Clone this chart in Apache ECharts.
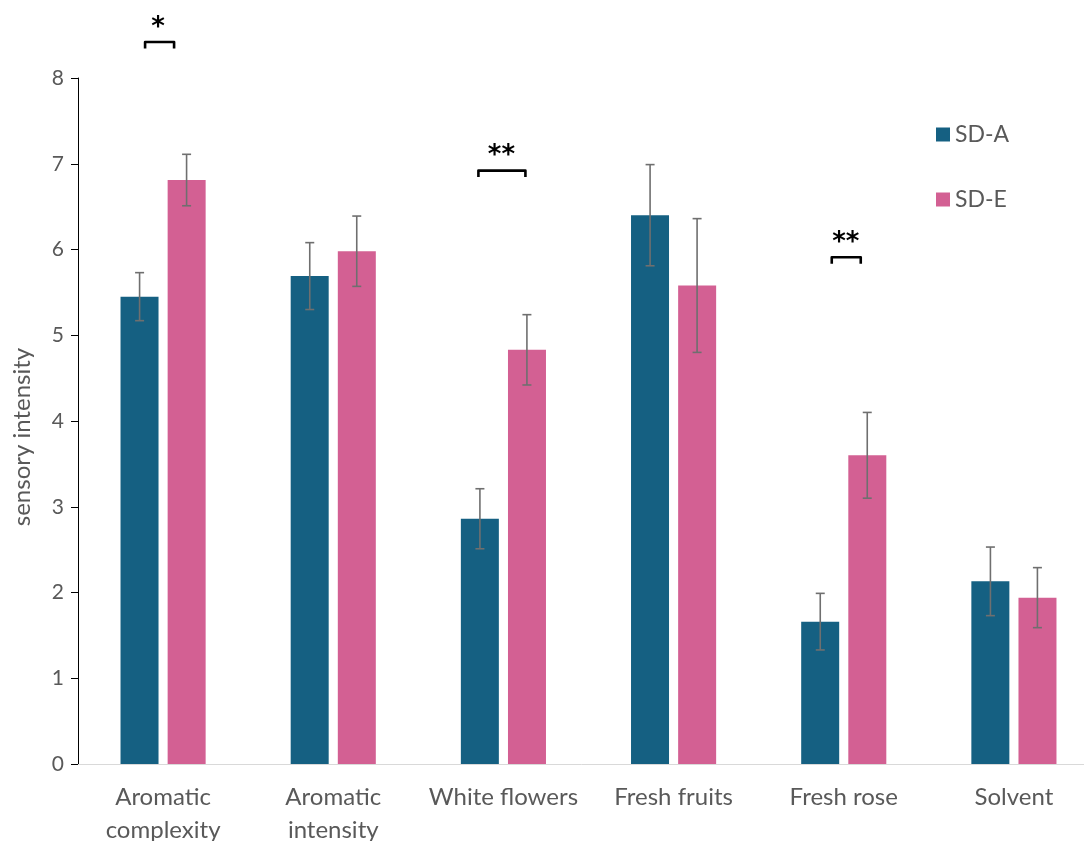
<!DOCTYPE html>
<html>
<head>
<meta charset="utf-8">
<script src="https://cdn.jsdelivr.net/npm/echarts@6/dist/echarts.min.js"></script>
<style>
html,body{margin:0;padding:0;background:#fff;}
#chart{width:1084px;height:841px;}
</style>
</head>
<body>
<div id="chart"></div>
<script>
// ---- data ----
const categories = ['Aromatic complexity', 'Aromatic intensity', 'White flowers', 'Fresh fruits', 'Fresh rose', 'Solvent'];
const seriesNames = ['SD-A', 'SD-E'];
const sdA = [5.45, 5.69, 2.86, 6.40, 1.66, 2.13];
const sdAErr = [0.28, 0.39, 0.35, 0.59, 0.33, 0.40];
const sdE = [6.81, 5.98, 4.83, 5.58, 3.60, 1.94];
const sdEErr = [0.30, 0.41, 0.41, 0.78, 0.50, 0.35];
const yMin = 0, yMax = 8, yStep = 1;
const sigCategory = [0, 2, 4];
const sigLevel = [8.42, 6.92, 5.91];
const sigLabel = ['*', '**', '**'];

// ---- styles / geometry ----
const colorA = '#156082';
const colorE = '#D36093';
const textColor = '#595959';
const fontFam = 'Lato, "Open Sans", sans-serif';
const barW = 38;
const barOffset = 23.5; // px from category centre to each bar centre
const bracketGeom = [ {l: -18, r: 11, s: -5}, {l: -25, r: 22, s: -2}, {l: -12, r: 17, s: 2} ];

const chart = echarts.init(document.getElementById('chart'), null, {renderer: 'canvas'});

function errRender(offset) {
  return function (params, api) {
    const hi = api.coord([api.value(0), api.value(2)]);
    const lo = api.coord([api.value(0), api.value(1)]);
    const x = hi[0] + offset;
    const cap = 4.5;
    const st = {stroke: '#6f6f6f', lineWidth: 1.6};
    return {
      type: 'group',
      children: [
        {type: 'line', shape: {x1: x, y1: hi[1], x2: x, y2: lo[1]}, style: st},
        {type: 'line', shape: {x1: x - cap, y1: hi[1], x2: x + cap, y2: hi[1]}, style: st},
        {type: 'line', shape: {x1: x - cap, y1: lo[1], x2: x + cap, y2: lo[1]}, style: st}
      ]
    };
  };
}

function errData(vals, errs) {
  return vals.map((v, i) => [i, v - errs[i], v + errs[i]]);
}

const sigData = sigCategory.map((c, i) => [c, sigLevel[i], i]);

const option = {
  backgroundColor: '#ffffff',
  animation: false,
  textStyle: {fontFamily: fontFam},
  grid: {left: 78, right: -15, top: 78, bottom: 77, containLabel: false, outerBoundsMode: 'none'},
  legend: {
    orient: 'vertical',
    left: 931,
    top: 118,
    itemWidth: 14,
    itemHeight: 14,
    itemGap: 42,
    icon: 'rect',
    data: seriesNames,
    textStyle: {fontSize: 23, color: textColor, fontFamily: fontFam}
  },
  xAxis: {
    type: 'category',
    data: categories,
    axisLine: {show: true, lineStyle: {color: '#d9d9d9', width: 1}},
    axisTick: {show: false},
    axisLabel: {
      color: textColor,
      fontSize: 24,
      fontFamily: fontFam,
      margin: 17,
      lineHeight: 33,
      interval: 0,
      formatter: function (v) { return v.length > 14 ? v.replace(' ', '\n') : v; }
    }
  },
  yAxis: {
    type: 'value',
    min: yMin,
    max: yMax,
    interval: yStep,
    splitLine: {show: false},
    axisLine: {show: true, lineStyle: {color: '#000000', width: 1}},
    axisTick: {show: true, length: 7, lineStyle: {color: '#000000'}},
    axisLabel: {color: textColor, fontSize: 21, fontFamily: fontFam, margin: 14}
  },
  graphic: [
    {
      type: 'text',
      x: 22, y: 437,
      rotation: Math.PI / 2,
      style: {text: 'sensory intensity', fill: textColor, font: '24px ' + fontFam, align: 'center', verticalAlign: 'middle'}
    }
  ],
  series: [
    {name: seriesNames[0], type: 'bar', data: sdA, barWidth: barW, barGap: '24%', itemStyle: {color: colorA}, z: 2},
    {name: seriesNames[1], type: 'bar', data: sdE, barWidth: barW, barGap: '24%', itemStyle: {color: colorE}, z: 2},
    {type: 'custom', renderItem: errRender(-barOffset), data: errData(sdA, sdAErr), encode: {x: 0, y: [1, 2]}, z: 5, silent: true},
    {type: 'custom', renderItem: errRender(barOffset), data: errData(sdE, sdEErr), encode: {x: 0, y: [1, 2]}, z: 5, silent: true},
    {
      type: 'custom',
      clip: false,
      silent: true,
      z: 6,
      data: sigData,
      encode: {x: 0, y: 1},
      renderItem: function (params, api) {
        const p = api.coord([api.value(0), api.value(1)]);
        const g = bracketGeom[api.value(2)];
        const y = p[1];
        const x1 = p[0] + g.l, x2 = p[0] + g.r;
        return {
          type: 'group',
          children: [
            {type: 'polyline', shape: {points: [[x1, y + 6.5], [x1, y], [x2, y], [x2, y + 6.5]]},
             style: {stroke: '#000', lineWidth: 2.6, fill: null, lineJoin: 'round', lineCap: 'butt'}},
            {type: 'text', x: p[0] + g.s, y: y - 14,
             style: {text: sigLabel[api.value(2)], fill: '#000', font: 'bold 26px "DejaVu Sans"', align: 'center', verticalAlign: 'middle'}}
          ]
        };
      }
    }
  ]
};
chart.setOption(option);
</script>
</body>
</html>
